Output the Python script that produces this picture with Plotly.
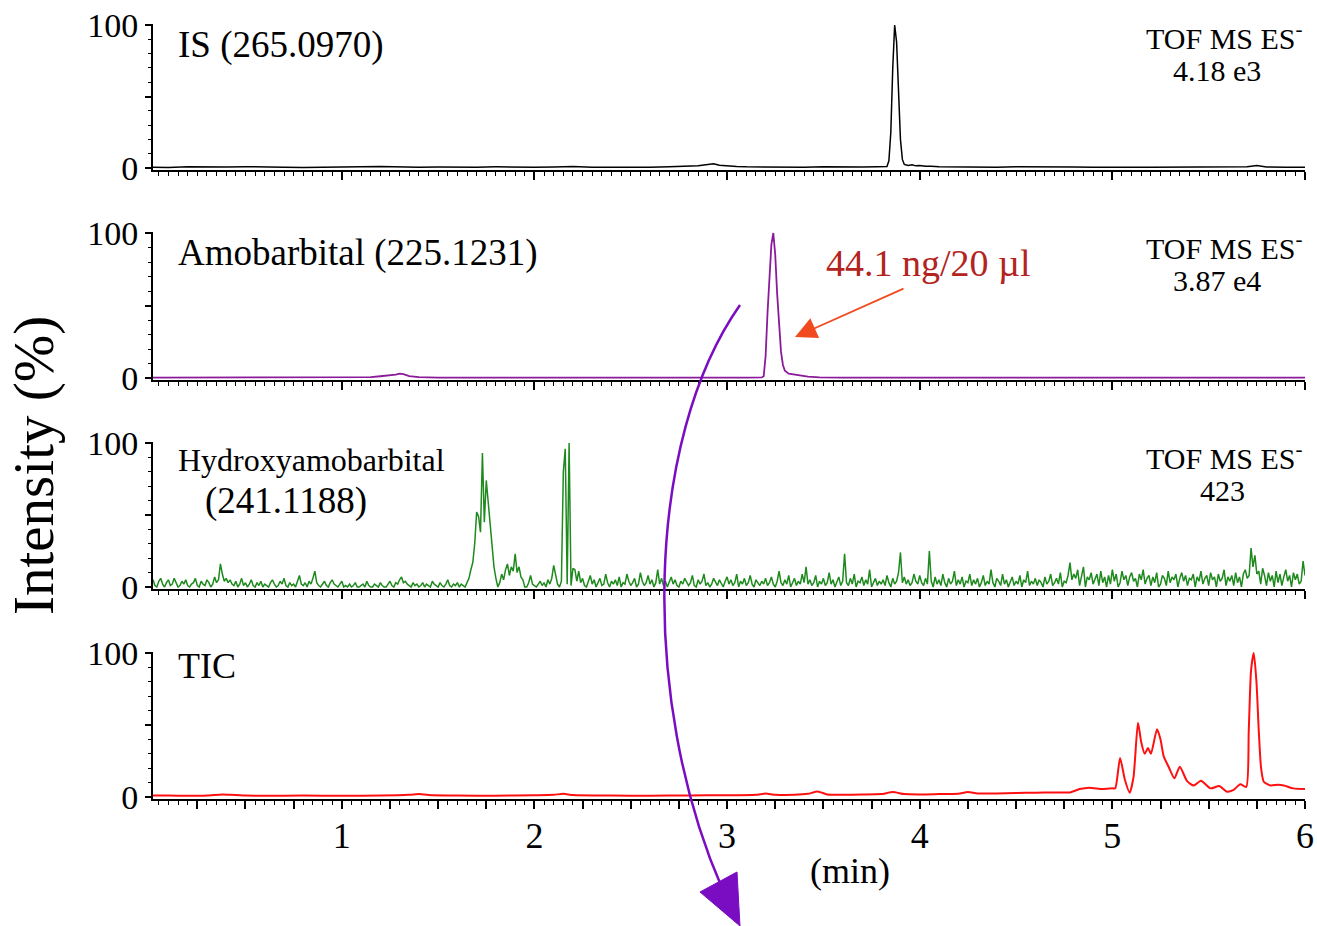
import numpy as np
import plotly.graph_objects as go

W, H = 1317, 926
FONT = "Liberation Serif, Times New Roman, serif"

# ---------------- data ----------------
# IS (265.0970) - black
is_time = [0.02, 0.1, 0.2, 0.3, 0.4, 0.5, 0.6, 0.7, 0.8, 0.9, 1.0, 1.1, 1.2, 1.3, 1.4, 1.5,
           1.6, 1.7, 1.8, 1.9, 2.0, 2.1, 2.2, 2.3, 2.4, 2.5, 2.6, 2.7, 2.8, 2.85, 2.9, 2.93,
           2.96, 3.0, 3.05, 3.1, 3.2, 3.3, 3.4, 3.5, 3.6, 3.7, 3.78, 3.83, 3.84, 3.85, 3.86,
           3.87, 3.88, 3.89, 3.90, 3.91, 3.92, 3.94, 3.96, 3.98, 4.0, 4.03, 4.06, 4.1, 4.2,
           4.3, 4.4, 4.5, 4.6, 4.7, 4.8, 4.9, 5.0, 5.1, 5.2, 5.3, 5.4, 5.5, 5.6, 5.7, 5.75,
           5.8, 5.9, 6.0]
is_int = [0.6, 0.4, 0.8, 0.5, 0.7, 0.9, 0.5, 0.6, 0.4, 0.7, 0.5, 0.8, 1.0, 0.6, 0.5, 0.7,
          0.5, 0.6, 0.8, 0.5, 0.6, 0.7, 1.0, 0.6, 0.5, 0.8, 0.6, 0.9, 1.0, 1.5, 2.5, 3.0,
          2.0, 1.5, 1.0, 0.8, 0.6, 0.7, 0.5, 0.8, 0.6, 0.7, 0.8, 1.0, 5.0, 25.0, 70.0,
          100.0, 88.0, 50.0, 20.0, 6.0, 2.5, 1.8, 2.2, 1.5, 1.8, 1.2, 1.3, 0.8, 0.6,
          0.7, 0.5, 0.8, 0.6, 0.5, 0.7, 0.6, 0.8, 0.5, 0.6, 0.7, 0.5, 0.6, 0.8, 0.9, 1.8,
          0.7, 0.6, 0.5]

# Amobarbital (225.1231) - purple
amo_time = [0.02, 0.3, 0.6, 0.9, 1.1, 1.15, 1.2, 1.25, 1.28, 1.30, 1.32, 1.35, 1.4, 1.5,
            1.8, 2.1, 2.4, 2.7, 3.0, 3.1, 3.18, 3.19, 3.20, 3.21, 3.22, 3.23, 3.24, 3.25,
            3.26, 3.27, 3.28, 3.29, 3.30, 3.32, 3.35, 3.38, 3.42, 3.48, 3.6, 4.0, 4.5,
            5.0, 5.5, 6.0]
amo_int = [0.2, 0.2, 0.3, 0.3, 0.4, 0.6, 1.2, 1.6, 2.3, 3.0, 2.6, 1.3, 0.6, 0.3,
           0.2, 0.2, 0.3, 0.2, 0.2, 0.3, 0.4, 1.2, 15.0, 45.0, 72.0, 92.0, 100.0, 85.0,
           58.0, 35.0, 18.0, 9.0, 5.0, 3.0, 2.3, 1.8, 1.0, 0.5, 0.3, 0.2, 0.2,
           0.2, 0.2, 0.2]

# Hydroxyamobarbital (241.1188) - green, one scan every 0.01 min (0.01 ... 6.00)
hyd_time = np.round(np.arange(1, 601) * 0.01, 2)
hyd_int = [
    3, 5, 1, 0, 4, 6, 2, 0, 3, 5, 1, 2, 6, 3, 0, 1, 4, 2, 5, 1,
    0, 2, 3, 6, 1, 0, 4, 2, 1, 5, 3, 0, 2, 7, 3, 5, 16, 9, 4, 6,
    3, 5, 2, 1, 4, 0, 2, 6, 1, 3, 0, 2, 5, 1, 0, 3, 1, 4, 0, 2,
    1, 0, 3, 5, 2, 0, 1, 4, 2, 6, 1, 0, 3, 1, 2, 0, 4, 8, 2, 1,
    3, 0, 4, 2, 6, 11, 3, 1, 0, 2, 4, 1, 0, 3, 5, 2, 1, 0, 2, 4,
    0, 1, 0, 2, 0, 1, 3, 0, 0, 1, 2, 0, 4, 1, 0, 0, 2, 1, 0, 3,
    1, 0, 0, 2, 4, 1, 0, 3, 2, 5, 7, 3, 4, 2, 1, 0, 3, 1, 2, 0,
    1, 3, 0, 2, 1, 0, 4, 2, 1, 0, 3, 1, 0, 2, 5, 1, 0, 2, 1, 3,
    0, 2, 1, 0, 3, 6, 12, 17, 30, 52, 49, 38, 93, 45, 74, 60, 44, 28, 14, 6,
    0, 3, 9, 5, 12, 16, 8, 14, 11, 23, 10, 14, 7, 5, 0, 0, 3, 8, 2, 1,
    0, 2, 4, 1, 3, 0, 5, 2, 6, 15, 9, 2, 0, 4, 80, 96, 2, 100, 1, 13,
    12, 4, 11, 3, 6, 1, 0, 4, 8, 2, 5, 0, 3, 6, 1, 2, 9, 3, 0, 4,
    2, 5, 1, 7, 0, 3, 2, 9, 4, 1, 3, 6, 0, 2, 10, 4, 1, 3, 8, 2,
    5, 0, 3, 12, 2, 6, 1, 4, 0, 3, 7, 2, 5, 1, 0, 4, 2, 6, 3, 1,
    3, 8, 1, 0, 5, 2, 4, 9, 1, 3, 0, 2, 6, 3, 1, 5, 2, 0, 4, 7,
    2, 5, 1, 3, 9, 0, 4, 2, 6, 1, 3, 8, 2, 0, 5, 3, 1, 4, 2, 6,
    1, 3, 7, 2, 0, 4, 11, 3, 1, 5, 2, 8, 0, 3, 6, 1, 4, 2, 9, 3,
    14, 2, 5, 1, 3, 8, 0, 4, 2, 6, 1, 3, 10, 2, 5, 0, 3, 7, 1, 4,
    23, 3, 1, 6, 2, 9, 0, 4, 3, 7, 1, 5, 2, 12, 0, 3, 6, 1, 4, 2,
    5, 1, 8, 3, 0, 6, 2, 4, 10, 24, 3, 7, 2, 5, 1, 3, 9, 4, 2, 8,
    3, 1, 6, 2, 25, 4, 0, 7, 2, 5, 1, 9, 3, 0, 6, 2, 4, 11, 1, 5,
    2, 7, 0, 4, 3, 9, 1, 5, 2, 6, 0, 3, 8, 1, 4, 2, 12, 3, 0, 6,
    4, 1, 9, 2, 5, 0, 3, 7, 1, 4, 2, 8, 0, 5, 3, 11, 1, 4, 2, 6,
    1, 5, 3, 0, 7, 2, 4, 9, 1, 3, 6, 2, 10, 0, 4, 3, 8, 17, 5, 9,
    6, 12, 1, 8, 14, 0, 7, 5, 10, 2, 6, 9, 1, 11, 3, 7, 0, 8, 2, 12,
    4, 9, 0, 3, 11, 5, 8, 1, 7, 10, 4, 6, 0, 9, 5, 12, 2, 6, 8, 1,
    7, 3, 10, 0, 2, 8, 6, 1, 11, 3, 7, 5, 9, 0, 6, 10, 4, 8, 1, 6,
    5, 9, 0, 7, 4, 11, 2, 6, 8, 1, 10, 5, 7, 0, 9, 4, 6, 12, 1, 7,
    4, 8, 1, 10, 3, 7, 0, 9, 12, 6, 8, 27, 14, 22, 9, 11, 2, 13, 8, 1,
    10, 4, 8, 0, 11, 3, 9, 1, 7, 12, 4, 8, 0, 10, 5, 9, 2, 4, 18, 8,
]

# TIC - red
tic_time = [0.02, 0.1, 0.2, 0.3, 0.38, 0.42, 0.5, 0.6, 0.8, 1.0, 1.2, 1.35, 1.4, 1.45, 1.6,
            1.8, 2.0, 2.1, 2.15, 2.2, 2.4, 2.6, 2.8, 3.0, 3.15, 3.2, 3.25, 3.35, 3.42, 3.47,
            3.52, 3.6, 3.7, 3.8, 3.86, 3.92, 4.0, 4.1, 4.2, 4.25, 4.3, 4.4, 4.5, 4.6, 4.7,
            4.78, 4.83, 4.88, 4.95, 5.0, 5.015, 5.04, 5.065, 5.09, 5.11, 5.133, 5.15, 5.168,
            5.185, 5.2, 5.232, 5.25, 5.267, 5.292, 5.322, 5.35, 5.388, 5.422, 5.46, 5.509,
            5.555, 5.595, 5.63, 5.664, 5.695, 5.708, 5.72, 5.734, 5.748, 5.76, 5.772, 5.786,
            5.82, 5.86, 5.89, 5.94, 6.0]
tic_int = [1.0, 1.0, 0.8, 1.0, 1.8, 1.5, 1.0, 0.8, 1.0, 0.9, 1.0, 1.5, 2.0, 1.4, 1.0,
           0.9, 1.2, 1.5, 2.2, 1.4, 1.0, 0.9, 1.1, 1.2, 1.6, 2.4, 1.6, 1.5, 2.2, 3.8,
           1.8, 1.6, 1.7, 2.0, 3.4, 2.0, 1.8, 2.0, 2.2, 3.4, 2.4, 2.5, 2.8, 3.0, 3.2,
           3.2, 5.5, 6.5, 5.5, 6.0, 6.0, 27.0, 12.0, 3.0, 14.0, 51.6, 38.0, 30.0,
           34.0, 30.0, 47.0, 40.0, 28.0, 21.0, 13.0, 21.0, 11.0, 8.0, 11.3, 6.0,
           7.6, 3.7, 5.0, 8.8, 7.0, 46.0, 88.0, 100.0, 80.0, 46.0, 20.0, 10.6,
           8.0, 8.5, 8.0, 6.0, 5.5]

x_ticks = [0.25 * k for k in range(1, 25)]
x_ticktext = [str(int(v)) if abs(v - round(v)) < 1e-9 else "" for v in x_ticks]

panels = [
    (is_time, is_int, "#000000", 1.5, "linear"),
    (amo_time, amo_int, "#8B1A9A", 1.8, "linear"),
    (hyd_time, hyd_int, "#1E8A1E", 1.5, "linear"),
    (tic_time, tic_int, "#FF1010", 2.0, "spline"),
]

# ---------------- layout helpers ----------------
def px(x):
    return x / W

def py(y):
    return 1 - y / H

Y_LO, Y_HI = -1.5, 101
# pixel rows of y=0 and y=100 for each panel
anchors = [(168, 25), (378, 233), (587, 443), (797, 653)]

def ydom(p0, p100):
    ppu = (p0 - p100) / 100.0
    bottom = p0 + (-Y_LO) * ppu
    top = p100 - (Y_HI - 100) * ppu
    return [py(bottom), py(top)]

fig = go.Figure()
for i, (t, v, c, w, shape) in enumerate(panels):
    n = "" if i == 0 else str(i + 1)
    fig.add_trace(go.Scatter(x=t, y=v, mode="lines", xaxis="x" + n, yaxis="y" + n,
                             line=dict(color=c, width=w, shape=shape, smoothing=0.6),
                             showlegend=False, hoverinfo="skip"))

layout = dict(width=W, height=H, margin=dict(l=0, r=0, t=0, b=0, pad=0, autoexpand=False),
              paper_bgcolor="white", plot_bgcolor="white", showlegend=False,
              font=dict(family=FONT, color="black"))

for i, (p0, p100) in enumerate(anchors):
    n = "" if i == 0 else str(i + 1)
    layout["xaxis" + n] = dict(
        domain=[px(153), px(1305)], range=[0.02, 6.0], anchor="y" + n,
        automargin=False,
        showline=True, linecolor="black", linewidth=2, showgrid=False, zeroline=False,
        tickmode="array", tickvals=x_ticks, ticktext=x_ticktext,
        showticklabels=(i == 3), ticks="outside", ticklen=8, tickwidth=1.5,
        tickcolor="black", tickfont=dict(family=FONT, size=36, color="black"),
        ticklabelstandoff=-4,
        minor=dict(tick0=0, dtick=0.05, ticks="outside", ticklen=4, tickwidth=1.2,
                   tickcolor="black", showgrid=False),
        layer="below traces", fixedrange=True,
        **({} if i == 0 else {"matches": "x"}))
    layout["yaxis" + n] = dict(
        domain=ydom(p0, p100), range=[Y_LO, Y_HI], anchor="x" + n,
        automargin=False,
        showline=True, linecolor="black", linewidth=2, showgrid=False, zeroline=False,
        tickmode="array", tickvals=[0, 50, 100], ticktext=["0", "", "100"],
        ticks="outside", ticklen=6, tickwidth=1.5, tickcolor="black",
        tickfont=dict(family=FONT, size=34, color="black"),
        minor=dict(tick0=0, dtick=10, ticks="outside", ticklen=3, tickwidth=1.2,
                   tickcolor="black", showgrid=False),
        layer="below traces", fixedrange=True)

def label(text, x, y, size, xanchor="left", color="black", angle=0):
    return dict(text=text, x=px(x), y=py(y), xref="paper", yref="paper",
                xanchor=xanchor, yanchor="middle", showarrow=False, textangle=angle,
                font=dict(family=FONT, size=size, color=color))

annotations = [
    label("IS (265.0970)", 176, 45, 37),
    label("Amobarbital (225.1231)", 176, 253, 37),
    label("Hydroxyamobarbital", 176, 460, 32),
    label("(241.1188)", 203, 501, 37),
    label("TIC", 176, 666, 36),
    label("TOF MS ES<sup>-</sup>", 1224, 36, 30, "center"),
    label("4.18 e3", 1217, 70, 30, "center"),
    label("TOF MS ES<sup>-</sup>", 1224, 246, 30, "center"),
    label("3.87 e4", 1217, 280, 30, "center"),
    label("TOF MS ES<sup>-</sup>", 1224, 456, 30, "center"),
    label("423", 1222, 490, 30, "center"),
    label("44.1 ng/20 µl", 824, 263, 38, "left", color="#B3241E"),
    label("(min)", 850, 871, 36, "center"),
    label("Intensity (%)", 34, 466, 57, "center", angle=-90),
    dict(text="", x=px(795), y=py(337), xref="paper", yref="paper", showarrow=True,
         ax=110, ay=-49, arrowhead=2, arrowsize=2.4, arrowwidth=1.8,
         arrowcolor="#F04A1E", standoff=0, startstandoff=0),
]
layout["annotations"] = annotations

# curved purple arrow (decoration in paper coordinates)
def P(x, y):
    return f"{px(x):.5f},{py(y):.5f}"

arrow_col = "#7A0DC2"
shapes = [
    dict(type="path", xref="paper", yref="paper",
         path=f"M {P(740, 305)} C {P(645, 440)} {P(640, 700)} {P(722, 888)}",
         line=dict(color=arrow_col, width=2.5), fillcolor="rgba(0,0,0,0)"),
    dict(type="path", xref="paper", yref="paper",
         path=f"M {P(700, 892)} L {P(737, 872)} L {P(740, 926)} Z",
         line=dict(color=arrow_col, width=1), fillcolor=arrow_col),
]
layout["shapes"] = shapes

fig.update_layout(**layout)
fig.write_html("out.html")
